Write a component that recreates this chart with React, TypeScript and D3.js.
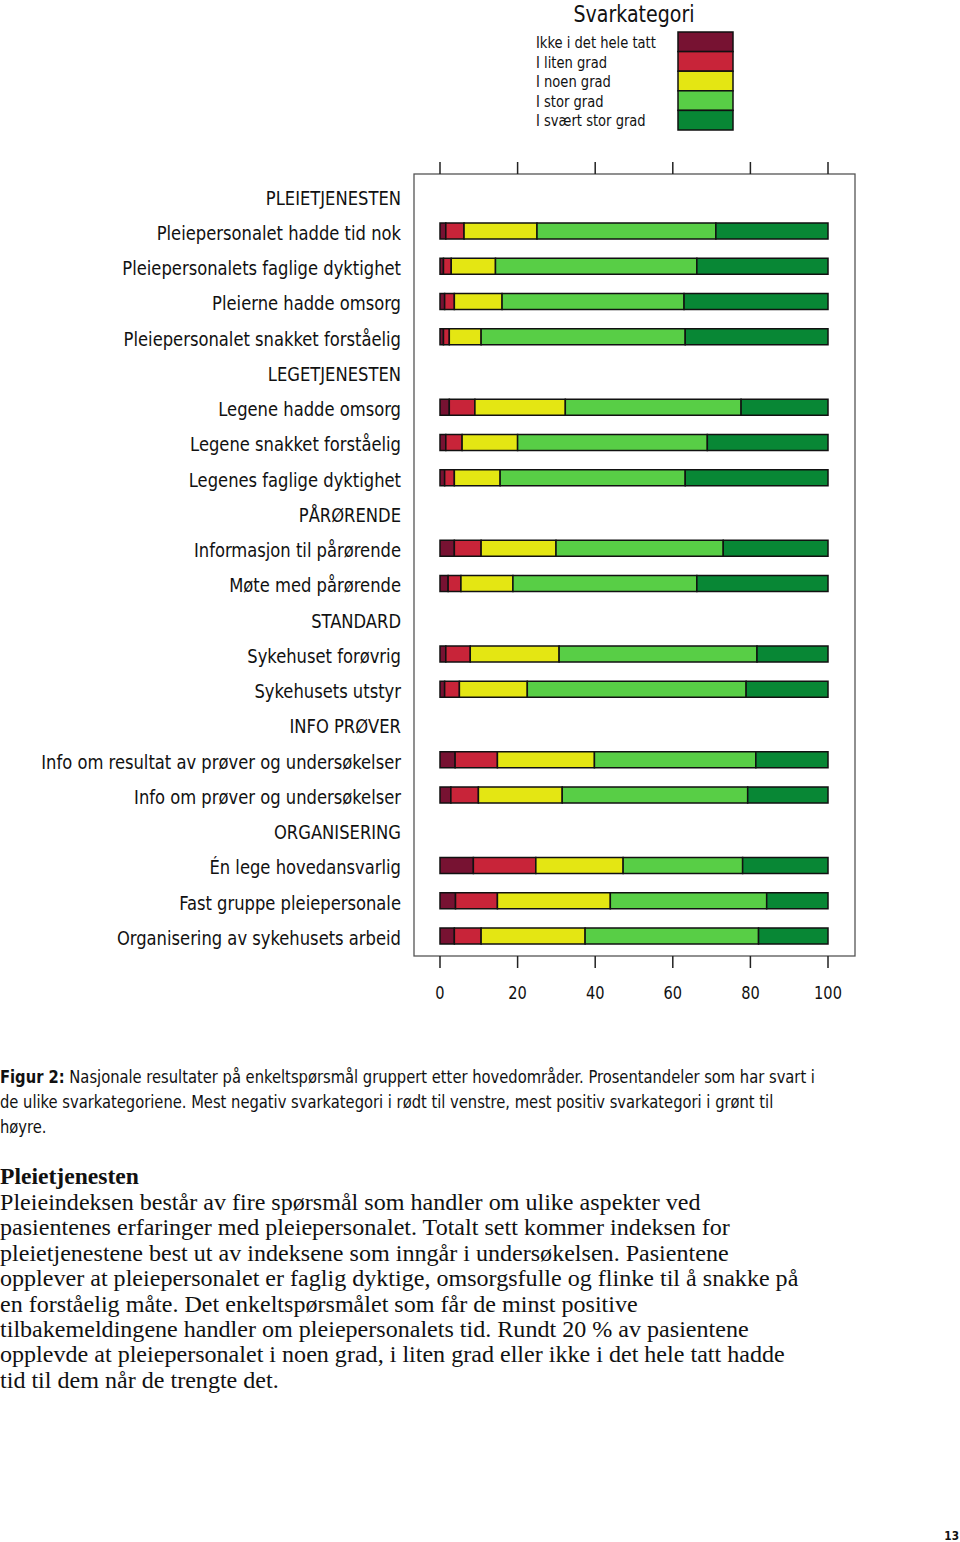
import React from "react";
import * as d3 from "d3";

const categories = [
  "PLEIETJENESTEN",
  "Pleiepersonalet hadde tid nok",
  "Pleiepersonalets faglige dyktighet",
  "Pleierne hadde omsorg",
  "Pleiepersonalet snakket forståelig",
  "LEGETJENESTEN",
  "Legene hadde omsorg",
  "Legene snakket forståelig",
  "Legenes faglige dyktighet",
  "PÅRØRENDE",
  "Informasjon til pårørende",
  "Møte med pårørende",
  "STANDARD",
  "Sykehuset forøvrig",
  "Sykehusets utstyr",
  "INFO PRØVER",
  "Info om resultat av prøver og undersøkelser",
  "Info om prøver og undersøkelser",
  "ORGANISERING",
  "Én lege hovedansvarlig",
  "Fast gruppe pleiepersonale",
  "Organisering av sykehusets arbeid",
];

// null = group header (no bar)
const ikkeIDetHeleTatt = [null, 1.5, 0.9, 1.2, 0.9, null, 2.4, 1.5, 1.2, null, 3.7, 2.1, null, 1.5, 1.2, null, 3.9, 2.8, null, 8.6, 4.0, 3.7];
const iLitenGrad = [null, 4.7, 2.0, 2.5, 1.5, null, 6.6, 4.2, 2.5, null, 6.9, 3.3, null, 6.3, 3.8, null, 10.9, 7.1, null, 16.1, 10.8, 6.9];
const iNoenGrad = [null, 18.8, 11.4, 12.3, 8.2, null, 23.3, 14.3, 11.8, null, 19.3, 13.4, null, 22.9, 17.5, null, 25.0, 21.6, null, 22.5, 29.1, 26.8];
const iStorGrad = [null, 46.1, 51.9, 46.9, 52.6, null, 45.3, 48.9, 47.7, null, 43.1, 47.4, null, 51.0, 56.4, null, 41.6, 47.8, null, 30.8, 40.3, 44.7];
const iSvaertStorGrad = [null, 28.9, 33.8, 37.1, 36.8, null, 22.4, 31.1, 36.8, null, 27.0, 33.8, null, 18.3, 21.1, null, 18.6, 20.7, null, 22.0, 15.8, 17.9];

const seriesNames = ["Ikke i det hele tatt", "I liten grad", "I noen grad", "I stor grad", "I svært stor grad"];
const seriesColors = ["#771232", "#c82439", "#e4e613", "#58ce46", "#088735"];
const xTicks = [0, 20, 40, 60, 80, 100];

const captionLines = [
  "Nasjonale resultater på enkeltspørsmål gruppert etter hovedområder. Prosentandeler som har svart i",
  "de ulike svarkategoriene. Mest negativ svarkategori i rødt til venstre, mest positiv svarkategori i grønt til",
  "høyre.",
];

const bodyTitle = "Pleietjenesten";
const bodyLines = [
  "Pleieindeksen består av fire spørsmål som handler om ulike aspekter ved",
  "pasientenes erfaringer med pleiepersonalet. Totalt sett kommer indeksen for",
  "pleietjenestene best ut av indeksene som inngår i undersøkelsen. Pasientene",
  "opplever at pleiepersonalet er faglig dyktige, omsorgsfulle og flinke til å snakke på",
  "en forståelig måte. Det enkeltspørsmålet som får de minst positive",
  "tilbakemeldingene handler om pleiepersonalets tid. Rundt 20 % av pasientene",
  "opplevde at pleiepersonalet i noen grad, i liten grad eller ikke i det hele tatt hadde",
  "tid til dem når de trengte det.",
];

const COND = "'DejaVu Sans Condensed', 'DejaVu Sans', sans-serif";
const SERIF = "'Liberation Serif', 'DejaVu Serif', serif";

function SText(props: {
  x: number;
  y: number;
  sx: number;
  size: number;
  family?: string;
  anchor?: string;
  weight?: string;
  baseline?: string;
  children: React.ReactNode;
}) {
  const { x, y, sx, size, family = COND, anchor = "start", weight = "normal", baseline, children } = props;
  return (
    <g transform={`translate(${x},${y}) scale(${sx},1)`}>
      <text
        x={0}
        y={0}
        fontFamily={family}
        fontSize={size}
        fontWeight={weight}
        textAnchor={anchor}
        dominantBaseline={baseline}
        fill="#111"
      >
        {children}
      </text>
    </g>
  );
}

export default function App() {
  const W = 960;
  const H = 1542;
  const x = d3.scaleLinear().domain([0, 100]).range([440, 828]);
  const y = d3.scalePoint<string>().domain(categories).range([195.75, 936]);
  const barH = 16;

  const seriesArrays = [ikkeIDetHeleTatt, iLitenGrad, iNoenGrad, iStorGrad, iSvaertStorGrad];
  const table = categories.map((c, i) => {
    const row: any = { cat: c };
    seriesNames.forEach((s, k) => (row[s] = seriesArrays[k][i] ?? 0));
    row.header = ikkeIDetHeleTatt[i] === null;
    return row;
  });
  const stacked = d3.stack<any>().keys(seriesNames)(table);

  const box = { x0: 414, x1: 855, y0: 174, y1: 956 };

  const legendY = d3.scaleBand<string>().domain(seriesNames).range([32, 130]);

  return (
    <div style={{ position: "absolute", left: 0, top: 0 }}>
      <svg width={W} height={H} style={{ display: "block", background: "#fff" }}>
        {/* Legend */}
        <SText x={634} y={14} sx={0.92} size={23} anchor="middle" baseline="central">
          Svarkategori
        </SText>
        {seriesNames.map((s, k) => (
          <g key={s}>
            <SText x={536} y={(legendY(s) as number) + legendY.bandwidth() / 2 + 1} sx={0.94} size={15.5} baseline="central">
              {s}
            </SText>
            <rect x={678} y={legendY(s)} width={55} height={legendY.bandwidth()} fill={seriesColors[k]} stroke="#111" strokeWidth={1.5} />
          </g>
        ))}

        {/* Plot box */}
        <rect x={box.x0} y={box.y0} width={box.x1 - box.x0} height={box.y1 - box.y0} fill="none" stroke="#555" strokeWidth={1.3} />
        {xTicks.map((t) => (
          <g key={t}>
            <line x1={x(t)} x2={x(t)} y1={box.y0 - 12} y2={box.y0} stroke="#222" strokeWidth={1.5} />
            <line x1={x(t)} x2={x(t)} y1={box.y1} y2={box.y1 + 12} stroke="#222" strokeWidth={1.5} />
            <SText x={x(t)} y={993} sx={0.9} size={18} anchor="middle" baseline="central">
              {t}
            </SText>
          </g>
        ))}

        {/* Bars */}
        {stacked.map((layer, k) => (
          <g key={layer.key} fill={seriesColors[k]}>
            {layer.map((d, i) =>
              table[i].header ? null : (
                <rect
                  key={i}
                  x={x(d[0])}
                  y={(y(categories[i]) as number) - barH / 2}
                  width={x(d[1]) - x(d[0])}
                  height={barH}
                  stroke="#111"
                  strokeWidth={1.5}
                />
              )
            )}
          </g>
        ))}

        {/* Row labels */}
        {categories.map((c) => (
          <SText key={c} x={401} y={(y(c) as number) + 2} sx={0.91} size={20} anchor="end" baseline="central">
            {c}
          </SText>
        ))}

        {/* Caption */}
        {captionLines.map((l, i) => (
          <SText key={i} x={0} y={1083 + i * 25} sx={0.936} size={17.5}>
            {i === 0 ? (
              <>
                <tspan fontWeight="bold">Figur 2:</tspan> {l}
              </>
            ) : (
              l
            )}
          </SText>
        ))}

        {/* Body text */}
        <SText x={0} y={1184} sx={1.05} size={22.5} family={SERIF} weight="bold">
          {bodyTitle}
        </SText>
        {bodyLines.map((l, i) => (
          <SText key={i} x={0} y={1210 + i * 25.4} sx={1.07} size={22.5} family={SERIF}>
            {l}
          </SText>
        ))}

        <SText x={959} y={1540} sx={0.9} size={13} weight="bold" anchor="end">
          13
        </SText>
      </svg>
    </div>
  );
}
